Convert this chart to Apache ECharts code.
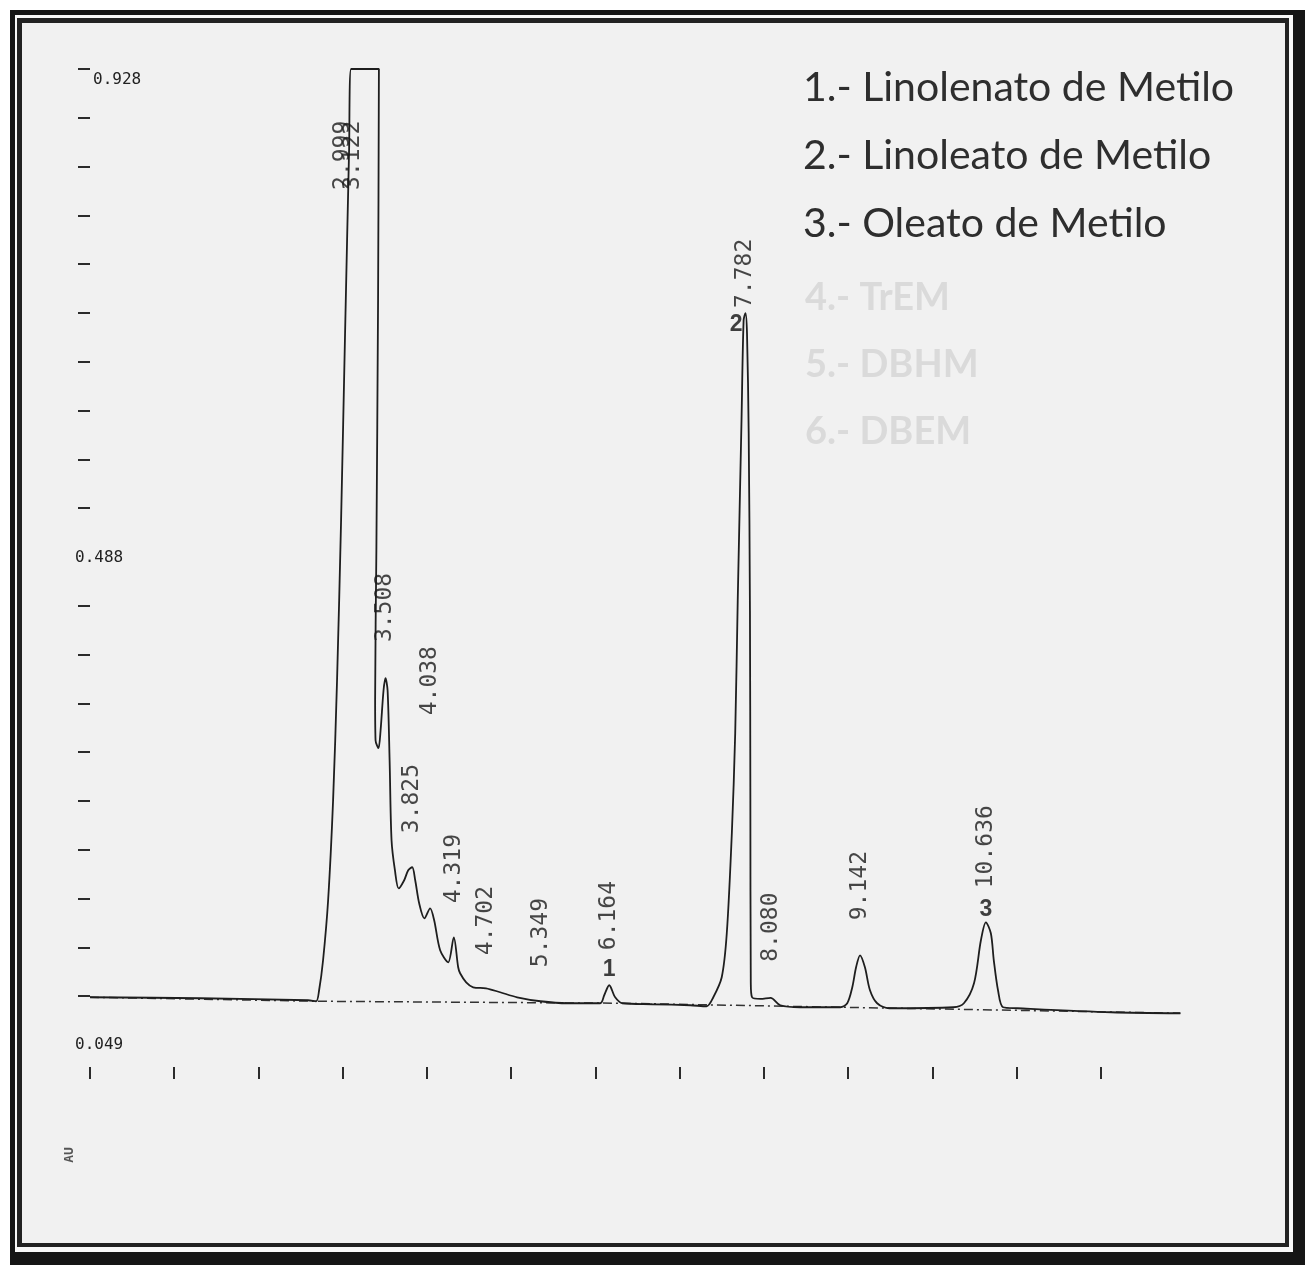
<!DOCTYPE html>
<html>
<head>
<meta charset="utf-8">
<title>Cromatograma - ésteres metílicos</title>
<script src="https://cdn.jsdelivr.net/npm/echarts@6/dist/echarts.min.js"></script>
<style>
  html, body { margin: 0; padding: 0; background: #ffffff; }
  #sheet { position: absolute; left: 0; top: 0; width: 1305px; height: 1265px; overflow: hidden; }
  .frame { position: absolute; }
  #chart { position: absolute; left: 0; top: 0; width: 1305px; height: 1265px; }
</style>
</head>
<body>
<div id="sheet">
  <div class="frame" style="left:10px;top:10px;width:1295px;height:1255px;background:#151515"></div>
  <div class="frame" style="left:15px;top:15px;width:1278px;height:1237px;background:#f8f8f8"></div>
  <div class="frame" style="left:17px;top:18px;width:1272px;height:1229px;background:#222222"></div>
  <div class="frame" style="left:22px;top:23px;width:1263px;height:1220px;background:#f1f1f1"></div>
  <div id="chart"></div>
</div>
<script>
// Detector trace (time in minutes, absorbance in AU)
const signalTime = [0, 1.306, 2.589, 2.684, 2.72, 2.767, 2.827, 2.886, 2.933, 2.981, 3.029, 3.076, 3.10,
  3.43, 3.42, 3.40, 3.385, 3.39, 3.425, 3.45, 3.485, 3.508, 3.533, 3.557, 3.58, 3.62, 3.665,
  3.73, 3.778, 3.825, 3.861, 3.908, 3.97, 4.038, 4.086, 4.157, 4.252, 4.319, 4.371, 4.394, 4.466,
  4.549, 4.702, 4.869, 5.071, 5.349, 5.665, 6.057, 6.105, 6.164, 6.235, 6.32, 6.675, 7.126,
  7.32, 7.40, 7.50, 7.56, 7.62, 7.66, 7.69, 7.735, 7.76, 7.782, 7.80, 7.82, 7.835, 7.84, 7.845,
  7.86, 7.96, 8.08, 8.195, 8.432, 8.907, 8.99, 9.05, 9.095, 9.142, 9.20, 9.26, 9.345, 9.49,
  10.249, 10.375, 10.495, 10.577, 10.636, 10.695, 10.73, 10.78, 10.84, 11.01, 12.126, 12.945];
const signalAU = [0.0920, 0.0911, 0.0893, 0.0884, 0.0983, 0.1253, 0.1794, 0.2694, 0.3775, 0.5217, 0.6929, 0.855, 0.928,
  0.928, 0.720, 0.495, 0.360, 0.3235, 0.3163, 0.3325, 0.3685, 0.3794, 0.3685, 0.3055, 0.2334, 0.2064, 0.190,
  0.1974, 0.2064, 0.2091, 0.1974, 0.1766, 0.1631, 0.1721, 0.1613, 0.1343, 0.1235, 0.1460, 0.1190, 0.1136, 0.1055,
  0.1010, 0.1001, 0.0965, 0.0920, 0.0884, 0.0866, 0.0866, 0.0938, 0.1028, 0.0920, 0.0866, 0.0857, 0.0848,
  0.0839, 0.0920, 0.1100, 0.1496, 0.2397, 0.3298, 0.4496, 0.6118, 0.7019, 0.7082, 0.690, 0.600, 0.440, 0.270, 0.105,
  0.0920, 0.0905, 0.0915, 0.0848, 0.0830, 0.0830, 0.0866, 0.1010, 0.1190, 0.1298, 0.1190, 0.0983, 0.0866, 0.0821,
  0.0830, 0.0866, 0.1046, 0.1433, 0.1595, 0.1496, 0.1253, 0.0983, 0.0830, 0.0821, 0.0785, 0.0776];

// Integrator baseline
const baselineTime = [0, 2.684, 6.32, 8.907, 12.945];
const baselineAU = [0.0920, 0.0884, 0.0866, 0.0830, 0.0776];

// Retention times printed over the peaks, with the trace height at each
const peakTimes = [2.999, 3.122, 3.508, 3.825, 4.038, 4.319, 4.702, 5.349, 6.164, 7.782, 8.080, 9.142, 10.636];
const peakAU = [0.928, 0.928, 0.3794, 0.2091, 0.1721, 0.1460, 0.1001, 0.0884, 0.1028, 0.7082, 0.0915, 0.1298, 0.1595];

// Identified compounds
const compoundIds = ['1', '2', '3'];
const compoundTimes = [6.164, 7.782, 10.636];
const compoundNames = ['Linolenato de Metilo', 'Linoleato de Metilo', 'Oleato de Metilo'];
const erasedNames = ['4.- TrEM', '5.- DBHM', '6.- DBEM'];

// Axes
const yTickLabels = [0.049, 0.488, 0.928];
const minuteTicks = [0, 1, 2, 3, 4, 5, 6, 7, 8, 9, 10, 11, 12];

const yMin = yTickLabels[0];
const yMax = yTickLabels[yTickLabels.length - 1];
// 20 divisions on the absorbance scale; the lower labels sit over their own tick
const yTicks = [];
for (let i = 1; i <= 20; i++) {
  if (i === 10) continue;
  yTicks.push(+(yMin + (yMax - yMin) * i / 20).toFixed(5));
}

// Label layout: pixel gap between each peak top and its printed time
const labelGap = [-121, -121, 36, 34, 193, 34, 33, 34, 35, 5, 36, 35, 34];

const chart = echarts.init(document.getElementById('chart'), null, { renderer: 'canvas' });

const monoFont = 'DejaVu Sans Mono';
const inkColor = '#1e1e1e';
const idFont = { fontFamily: 'Liberation Sans', fontWeight: 'bold', fontSize: 23, color: '#111' };

const option = {
  backgroundColor: 'transparent',
  animation: false,
  grid: { left: 90, right: 120, top: 69, bottom: 220 },
  xAxis: {
    type: 'value', min: 0, max: 13, offset: 22,
    axisLine: { show: false },
    splitLine: { show: false },
    axisTick: { show: true, length: 12, customValues: minuteTicks, lineStyle: { color: '#2b2b2b', width: 2 } },
    axisLabel: { show: false }
  },
  yAxis: {
    type: 'value', min: yMin, max: yMax,
    axisLine: { show: false },
    splitLine: { show: false },
    axisTick: { show: true, length: 12, customValues: yTicks, lineStyle: { color: '#2b2b2b', width: 2 } },
    axisLabel: {
      show: true, customValues: yTickLabels, margin: 15, align: 'left',
      fontFamily: monoFont, fontSize: 16, color: '#222',
      formatter: v => (Math.abs(v - yMax) < 1e-9 ? '{top|' + v.toFixed(3) + '}' : v.toFixed(3)),
      rich: { top: { fontFamily: monoFont, fontSize: 16, color: '#222', padding: [22, 0, 0, 18] } }
    },
    name: 'AU', nameLocation: 'start', nameGap: 110, nameRotate: 90,
    nameTextStyle: { fontFamily: monoFont, fontSize: 13, fontWeight: 'bold', color: '#555', verticalAlign: 'bottom', align: 'center', padding: [0, 0, 14, 0] }
  },
  graphic: [
    ...compoundNames.map((n, i) => ({
      type: 'text', x: 803, y: 88 + 68 * i,
      style: { text: compoundIds[i] + '.- ' + n, font: '41px Lato', fill: '#2e2e2e', align: 'left', verticalAlign: 'middle' }
    })),
    ...erasedNames.map((n, i) => ({
      type: 'text', x: 805, y: 298 + 67 * i,
      style: { text: n, font: 'bold 38px Lato', fill: '#dadada', align: 'left', verticalAlign: 'middle' }
    }))
  ],
  series: [
    {
      name: 'Línea base', type: 'line', symbol: 'none', silent: true, z: 2,
      data: baselineTime.map((t, i) => [t, baselineAU[i]]),
      lineStyle: { color: '#333', width: 1.5, type: [9, 4, 2, 4] }
    },
    {
      name: 'Señal', type: 'line', symbol: 'none', smooth: 0.3, z: 3,
      data: signalTime.map((t, i) => [t, signalAU[i]]),
      lineStyle: { color: inkColor, width: 1.8 }
    },
    {
      name: 'Tiempos de retención', type: 'scatter', symbolSize: 0.1, z: 4,
      itemStyle: { color: 'transparent' },
      data: peakTimes.map((t, i) => ({
        value: [t, peakAU[i]], name: t.toFixed(3),
        label: { distance: labelGap[i] }
      })),
      label: {
        show: true, position: 'top', rotate: 90, align: 'left', verticalAlign: 'middle',
        formatter: '{b}', fontFamily: monoFont, fontSize: 23, color: '#1a1a1a'
      }
    },
    {
      name: 'Compuestos', type: 'scatter', symbolSize: 0.1, z: 5,
      itemStyle: { color: 'transparent' },
      data: compoundTimes.map((t, i) => {
        const h = peakAU[peakTimes.indexOf(t)];
        const lbl = i === 1
          ? Object.assign({ position: 'left', distance: 3, offset: [0, 12] }, idFont)
          : Object.assign({ position: 'top', distance: i === 0 ? 4 : 1 }, idFont);
        return { value: [t, h], name: compoundIds[i], label: lbl };
      }),
      label: Object.assign({ show: true, formatter: '{b}' }, idFont)
    }
  ]
};

chart.setOption(option);
</script>
</body>
</html>
